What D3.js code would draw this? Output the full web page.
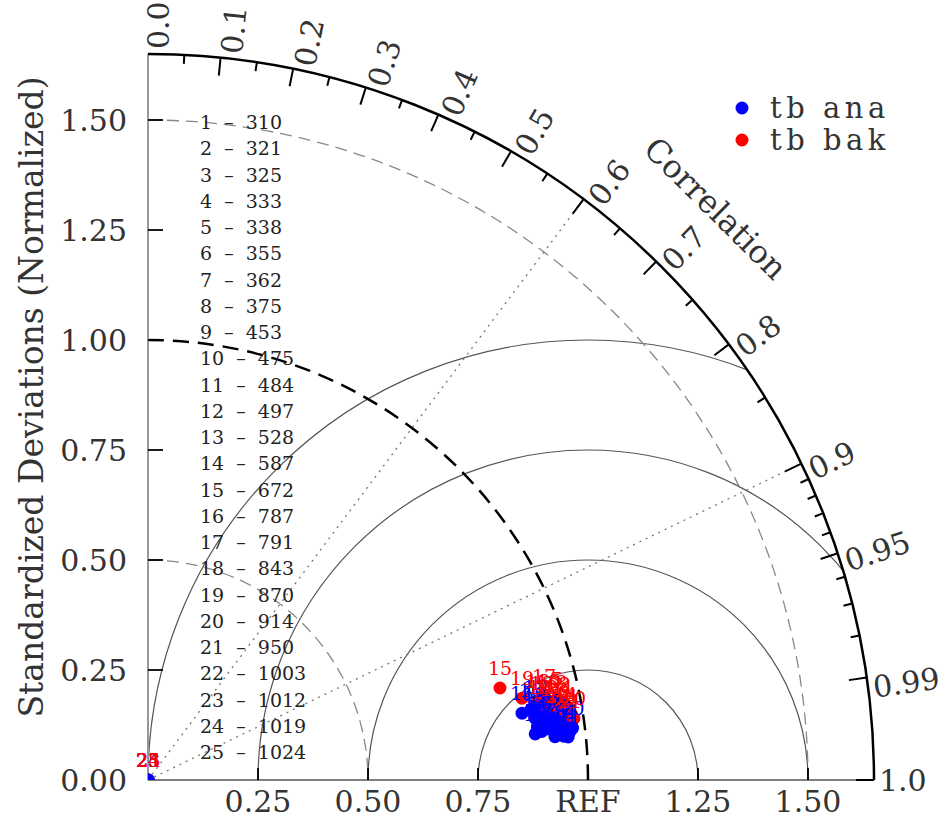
<!DOCTYPE html>
<html>
<head>
<meta charset="utf-8">
<script src="https://cdn.jsdelivr.net/npm/d3@7"></script>
<style>
  body { margin: 0; background: #fff; }
  svg { display: block; }
  text { font-family: "DejaVu Serif", serif; }
</style>
</head>
<body>
<svg id="chart" width="945" height="830"></svg>
<script>
// ---- Taylor diagram data ----
const caseIds    = [1,2,3,4,5,6,7,8,9,10,11,12,13,14,15,16,17,18,19,20,21,22,23,24,25];
const caseLevels = [310,321,325,333,338,355,362,375,453,475,484,497,528,587,672,787,791,843,870,914,950,1003,1012,1019,1024];

// normalized standard deviation and correlation for each case
const anaRatio = [0.9576,0.9487,0.9397,0.9665,0.9306,0.9136,0.9222,0.9412,0.9116,0.8994,0.9017,0.8911,0.8931,0.9503,0.8635,0.8846,0.8953,0.8862,0.8907,0.9722,0.9600,0.9302,0,0,0];
const anaCorr  = [0.9921,0.9909,0.9896,0.9933,0.9886,0.9906,0.9922,0.9934,0.9873,0.9895,0.9925,0.9876,0.9909,0.9945,0.9844,0.9835,0.9829,0.9930,0.9857,0.9926,0.9948,0.9944,0,0,0];
const bakRatio = [0.9692,0.9635,0.9567,0.9736,0.9482,0.9356,0.9486,0.9576,0.9414,0.9276,0.9318,0.9199,0.9119,0.9610,0.8268,0.9031,0.9198,0.9052,0.8701,0.9781,0.9675,0.9412,0,0,0];
const bakCorr  = [0.9854,0.9839,0.9825,0.9881,0.9808,0.9834,0.9857,0.9868,0.9826,0.9810,0.9851,0.9838,0.9814,0.9886,0.9675,0.9799,0.9784,0.9832,0.9769,0.9897,0.9902,0.9881,0,0,0];

const seriesNames  = ["tb ana", "tb bak"];
const seriesColors = ["#0000ff", "#ff0000"];

// axes
const stdMax      = 1.65;
const yTicks      = [0, 0.25, 0.5, 0.75, 1.0, 1.25, 1.5];
const yTickLabels = ["0.00", "0.25", "0.50", "0.75", "1.00", "1.25", "1.50"];
const xTicks      = [0.25, 0.5, 0.75, 1.0, 1.25, 1.5];
const xTickLabels = ["0.25", "0.50", "0.75", "REF", "1.25", "1.50"];
const corrMajor   = [0, 0.1, 0.2, 0.3, 0.4, 0.5, 0.6, 0.7, 0.8, 0.9, 0.95, 0.99, 1.0];
const corrLabels  = ["0.0","0.1","0.2","0.3","0.4","0.5","0.6","0.7","0.8","0.9","0.95","0.99","1.0"];
const corrMinor   = [0.05,0.15,0.25,0.35,0.45,0.55,0.65,0.75,0.85,0.91,0.92,0.93,0.94,0.96,0.97,0.98];
const stdArcs     = [0.5, 1.0, 1.5];
const rmsArcs     = [0.25, 0.5, 0.75, 1.0];
const corrRays    = [0.6, 0.9];

// ---- layout ----
const svg = d3.select("#chart");
const ox = 148, oy = 780;
const r = d3.scaleLinear().domain([0, stdMax]).range([0, 726]);
const R = r(stdMax);
const labelSize = 30;

const polar = (s, c) => {
  const th = Math.acos(Math.max(-1, Math.min(1, c)));
  return [ox + r(s) * Math.cos(th), oy - r(s) * Math.sin(th)];
};

// clip to the quarter disc
svg.append("clipPath").attr("id", "quad")
  .append("path")
  .attr("transform", `translate(${ox},${oy})`)
  .attr("d", d3.arc().innerRadius(0).outerRadius(R).startAngle(0).endAngle(Math.PI / 2)());

// centred RMS difference arcs around REF
const gRms = svg.append("g").attr("clip-path", "url(#quad)");
gRms.selectAll("circle").data(rmsArcs).join("circle")
  .attr("cx", ox + r(1)).attr("cy", oy).attr("r", d => r(d))
  .attr("fill", "none").attr("stroke", "#555").attr("stroke-width", 1.2);

// correlation rays
svg.selectAll(".ray").data(corrRays).join("line")
  .attr("x1", ox).attr("y1", oy)
  .attr("x2", d => polar(stdMax, d)[0]).attr("y2", d => polar(stdMax, d)[1])
  .attr("stroke", "#777").attr("stroke-width", 1.3).attr("stroke-dasharray", "2,5");

// standard deviation arcs
const arcPath = rad => { const p = d3.path(); p.moveTo(ox, oy - rad); p.arc(ox, oy, rad, -Math.PI / 2, 0); return p.toString(); };
svg.selectAll(".sarc").data(stdArcs).join("path")
  .attr("d", d => arcPath(r(d)))
  .attr("fill", "none")
  .attr("stroke", d => d === 1 ? "#000" : "#888")
  .attr("stroke-width", d => d === 1 ? 2.5 : 1.3)
  .attr("stroke-dasharray", d => d === 1 ? "16,9" : "12,7");

// axis lines
svg.append("line").attr("x1", ox).attr("y1", oy).attr("x2", ox).attr("y2", oy - R)
  .attr("stroke", "#999").attr("stroke-width", 2);
svg.append("line").attr("x1", ox).attr("y1", oy).attr("x2", ox + R).attr("y2", oy)
  .attr("stroke", "#555").attr("stroke-width", 1.5);
svg.append("path").attr("d", arcPath(R)).attr("fill", "none").attr("stroke", "#000").attr("stroke-width", 2.5);

// y ticks / labels
svg.selectAll(".ytick").data(yTicks.filter(d => d > 0)).join("line")
  .attr("x1", ox).attr("x2", ox + 15).attr("y1", d => oy - r(d)).attr("y2", d => oy - r(d))
  .attr("stroke", "#000").attr("stroke-width", 1.8);
svg.selectAll(".ylab").data(yTicks).join("text")
  .attr("x", 127).attr("y", d => oy - r(d)).attr("dy", "0.36em")
  .attr("text-anchor", "end").attr("font-size", labelSize).attr("fill", "#333")
  .text((d, i) => yTickLabels[i]);

// x ticks / labels
svg.selectAll(".xtick").data(xTicks).join("line")
  .attr("x1", d => ox + r(d)).attr("x2", d => ox + r(d)).attr("y1", oy).attr("y2", oy - 12)
  .attr("stroke", "#000").attr("stroke-width", 1.8);
svg.selectAll(".xlab").data(xTicks).join("text")
  .attr("x", d => ox + r(d)).attr("y", 812)
  .attr("text-anchor", "middle").attr("font-size", labelSize).attr("fill", "#333")
  .text((d, i) => xTickLabels[i]);

// correlation ticks
const tickLine = (c, len) => {
  const [x1, y1] = polar(stdMax, c);
  const th = Math.acos(c);
  return [x1, y1, x1 - len * Math.cos(th), y1 + len * Math.sin(th)];
};
svg.selectAll(".cmaj").data(corrMajor.filter(c => c > 0 && c < 1)).join("line")
  .each(function (c) { const t = tickLine(c, 18); d3.select(this).attr("x1", t[0]).attr("y1", t[1]).attr("x2", t[2]).attr("y2", t[3]); })
  .attr("stroke", "#000").attr("stroke-width", 2);
svg.selectAll(".cmin").data(corrMinor).join("line")
  .each(function (c) { const t = tickLine(c, 9); d3.select(this).attr("x1", t[0]).attr("y1", t[1]).attr("x2", t[2]).attr("y2", t[3]); })
  .attr("stroke", "#000").attr("stroke-width", 2);
svg.append("line").attr("x1", ox + R).attr("y1", oy).attr("x2", ox + R - 18).attr("y2", oy)
  .attr("stroke", "#000").attr("stroke-width", 2);

// correlation labels
svg.selectAll(".clab").data(corrMajor).join("text")
  .attr("transform", c => {
    const th = Math.acos(c);
    const rl = R + 5;
    return `translate(${ox + rl * Math.cos(th)},${oy - rl * Math.sin(th)}) rotate(${-th * 180 / Math.PI})`;
  })
  .attr("dy", c => c < 1 ? "0.7em" : "0.36em")
  .attr("font-size", labelSize).attr("fill", "#333")
  .text((c, i) => corrLabels[i]);

// "Correlation" title along the arc
{
  const th = 45.2 * Math.PI / 180, rl = 806;
  svg.append("text")
    .attr("transform", `translate(${ox + rl * Math.cos(th)},${oy - rl * Math.sin(th)}) rotate(${90 - 45.2})`)
    .attr("text-anchor", "middle").attr("dy", "0.36em")
    .attr("font-size", 32).attr("fill", "#333")
    .text("Correlation");
}

// y title
svg.append("text")
  .attr("transform", `translate(31,397) rotate(-90)`)
  .attr("text-anchor", "middle").attr("dy", "0.36em")
  .attr("font-size", 33).attr("fill", "#333")
  .text("Standardized Deviations (Normalized)");

// case index list
svg.selectAll(".case").data(caseIds).join("text")
  .attr("x", 200).attr("y", (d, i) => 129 + i * 26.25)
  .attr("font-size", 19).attr("fill", "#222")
  .style("white-space", "pre")
  .text((d, i) => `${d}  –  ${caseLevels[i]}`);

// markers: bak first, then ana on top
const series = [
  { ratio: bakRatio, corr: bakCorr, color: seriesColors[1] },
  { ratio: anaRatio, corr: anaCorr, color: seriesColors[0] }
];
const gMarks = svg.append("g").attr("clip-path", "url(#quad)");
series.forEach(s => {
  gMarks.append("g").selectAll("circle").data(caseIds).join("circle")
    .attr("cx", (d, i) => polar(s.ratio[i], s.corr[i])[0])
    .attr("cy", (d, i) => polar(s.ratio[i], s.corr[i])[1])
    .attr("r", 6.5).attr("fill", s.color);
});
// labels: ana first, bak on top
[series[1], series[0]].forEach(s => {
  svg.append("g").selectAll("text").data(caseIds).join("text")
    .attr("x", (d, i) => polar(s.ratio[i], s.corr[i])[0])
    .attr("y", (d, i) => polar(s.ratio[i], s.corr[i])[1] - 13)
    .attr("text-anchor", "middle").attr("font-size", 19).attr("fill", s.color)
    .text(d => d);
});

// legend
const lg = svg.append("g");
seriesNames.forEach((name, i) => {
  lg.append("circle").attr("cx", 742).attr("cy", 108 + i * 32).attr("r", 6.5).attr("fill", seriesColors[i]);
  lg.append("text").attr("x", 770).attr("y", 108 + i * 32).attr("dy", "0.34em")
    .attr("font-size", 29).attr("letter-spacing", 4.5).attr("fill", "#333").text(name);
});
</script>
</body>
</html>
